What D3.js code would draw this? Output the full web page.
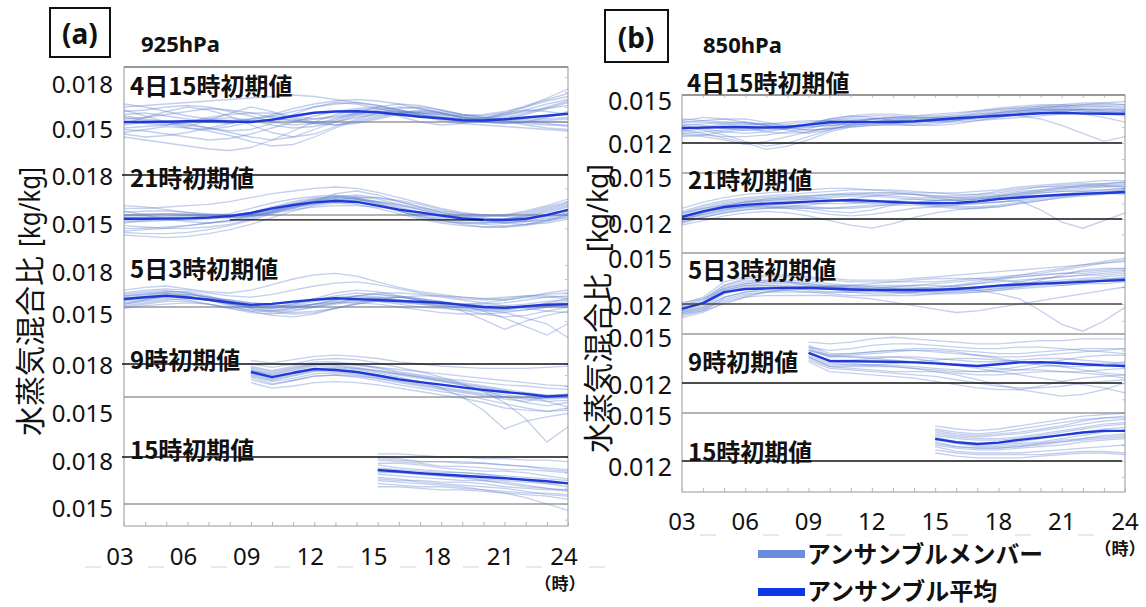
<!DOCTYPE html>
<html>
<head>
<meta charset="utf-8">
<script src="https://cdn.jsdelivr.net/npm/d3@7"></script>
<style>
  body { margin: 0; background: #fff; }
  svg { display: block; }
  text { font-family: "Noto Sans", "Noto Sans CJK JP", sans-serif; }
  .cjk { font-family: "Noto Sans CJK JP", "Noto Sans", sans-serif; }
</style>
</head>
<body>
<svg id="chart" width="1146" height="607"></svg>
<script>
// Water vapour mixing ratio ensemble forecasts, values in 10^-4 kg/kg.
const UNIT = 1e-4;

const hourTicks = [3, 6, 9, 12, 15, 18, 21, 24];
const hourTickLabels = ["03", "06", "09", "12", "15", "18", "21", "24"];
const allHours = [3,4,5,6,7,8,9,10,11,12,13,14,15,16,17,18,19,20,21,22,23,24];
const initLabels = ["4日15時初期値", "21時初期値", "5日3時初期値", "9時初期値", "15時初期値"];
const firstHours = [3, 3, 3, 9, 15];
const refValuesA = [0.018, 0.015];
const refValuesB = [0.015, 0.012];
const tickTextA = ["0.018", "0.015"];
const tickTextB = ["0.015", "0.012"];

// ---------- 925hPa ----------
const a1Mean = [150.0,150.0,150.2,150.5,150.7,150.3,150.0,151.5,154.0,156.2,157.0,157.2,156.5,155.0,153.5,152.5,151.2,151.0,151.8,153.0,154.2,155.5];
const a1Members = [
  [160,161,162,163,164,165,166,167,168,167,165,163,161,158,156,155,154,155,157,160,164,167],
  [155,156,154,152,150,149,151,154,157,160,162,163,161,158,155,153,152,153,155,157,159,161],
  [145,144,142,140,138,139,142,146,150,154,157,159,160,158,155,152,150,150,151,152,152,153],
  [140,138,136,134,132,131,133,138,144,150,155,158,159,157,154,151,149,148,147,146,145,144],
  [152,153,155,157,159,158,156,153,151,152,154,156,157,157,156,155,153,152,154,158,162,165],
  [148,150,151,149,146,143,140,138,140,145,150,154,156,157,156,154,152,151,150,149,148,148],
  [157,158,160,161,160,157,154,150,148,149,152,156,160,162,161,158,155,153,152,151,150,150],
  [150,149,148,150,153,155,156,156,154,152,153,155,158,160,159,156,153,151,152,155,159,163],
  [143,145,147,146,144,141,137,134,135,140,146,151,154,156,157,156,154,152,151,150,149,147],
  [162,160,157,154,152,151,152,155,159,162,164,165,164,162,159,156,153,152,155,160,166,172],
  [153,151,149,146,145,147,150,152,151,149,148,150,153,156,158,157,155,154,156,158,157,155],
  [146,147,148,150,152,153,151,148,146,147,150,153,155,156,155,153,151,150,149,150,153,157],
  [158,154,150,147,151,156,160,157,152,149,151,155,157,154,150,148,149,152,156,161,165,169],
  [149,153,157,160,158,154,148,143,140,142,147,152,156,159,160,158,155,153,151,148,146,145],
  [154,152,150,148,146,144,145,149,155,160,163,162,159,156,154,152,151,151,153,156,160,164],
  [142,140,141,143,146,149,152,154,153,150,148,149,152,155,157,156,153,150,149,150,151,152]
];

const a2Mean = [147.2,147.2,147.3,147.5,148.0,149.2,151.5,155.0,157.5,159.5,160.5,159.8,157.0,154.0,152.0,149.5,147.5,146.5,146.2,147.0,150.0,153.8];
const a2Members = [
  [155,155,156,157,158,160,163,166,168,170,171,170,167,163,159,155,152,150,150,152,156,160],
  [150,149,148,148,149,151,155,159,162,164,165,163,160,156,152,149,147,146,147,149,152,156],
  [142,141,140,140,141,143,147,152,157,160,161,160,157,153,149,146,144,143,142,143,146,150],
  [135,134,133,134,136,139,143,148,153,157,159,158,155,151,147,144,142,141,141,142,145,149],
  [148,148,149,150,150,149,150,153,157,161,164,165,163,160,156,152,149,147,147,148,150,153],
  [152,153,153,152,151,150,151,154,158,161,162,160,157,154,151,150,149,149,150,153,157,162],
  [145,145,146,147,148,149,151,154,156,158,160,161,160,158,155,152,150,148,146,145,146,148],
  [140,140,141,142,144,146,150,155,159,162,163,162,159,155,151,148,146,146,147,150,154,158],
  [157,156,154,152,150,149,150,152,155,158,161,163,163,161,158,154,151,149,149,151,155,159],
  [146,146,146,146,147,148,150,153,157,160,162,162,160,157,154,151,148,146,145,145,147,151],
  [150,151,151,150,149,148,149,152,156,160,163,164,162,158,154,150,147,145,144,145,148,152],
  [138,139,140,142,144,146,149,152,156,159,161,160,157,154,150,147,145,144,144,146,150,154],
  [144,146,148,149,149,148,149,151,155,160,166,168,165,160,156,153,151,150,149,148,149,151],
  [153,150,147,145,144,145,148,153,158,162,164,163,159,153,148,145,144,144,146,149,153,157],
  [137,136,136,137,139,142,146,151,154,156,157,157,156,154,152,150,148,146,144,143,144,147],
  [149,150,151,151,150,150,152,156,160,163,164,162,158,153,149,146,143,141,141,143,146,150]
];
// short dark reference segment drawn across the 21時 strip
const a2RefSegment = [[8, 146.3], [20, 146.3]];

const a3Mean = [155.7,157.0,158.0,156.8,155.2,153.2,151.5,152.2,153.8,155.2,156.2,155.6,155.0,154.3,153.7,153.0,151.5,150.0,149.4,150.5,151.6,152.0];
const a3Members = [
  [160,162,163,162,160,158,157,159,162,165,167,168,166,163,160,158,156,155,156,158,159,160],
  [156,158,160,159,157,155,153,152,153,155,158,160,159,157,155,153,151,149,148,150,152,154],
  [152,154,156,155,152,149,146,145,147,150,153,156,157,157,156,154,151,147,142,136,130,138],
  [158,160,161,160,157,153,150,148,149,152,155,158,160,160,159,157,155,153,151,149,147,146],
  [154,156,158,157,155,152,149,147,148,150,152,154,154,153,152,151,150,148,146,142,138,128],
  [162,164,165,163,161,160,162,166,170,173,174,172,168,164,161,159,157,156,157,158,158,157],
  [150,152,154,154,152,149,147,147,149,152,154,155,154,152,150,149,148,147,147,148,150,151],
  [157,159,160,158,155,152,150,150,152,155,157,158,157,155,153,152,152,153,155,157,157,156],
  [153,155,157,157,156,154,152,151,151,152,153,153,152,150,148,146,145,145,146,148,150,152],
  [159,161,162,160,156,152,149,147,146,147,149,152,155,157,158,158,157,156,155,157,160,162],
  [155,157,159,158,155,151,147,144,143,145,149,153,156,157,155,152,148,145,143,144,147,150],
  [151,153,155,156,156,155,153,151,150,151,153,155,156,155,153,151,149,148,148,150,153,156],
  [155,157,158,157,155,153,150,149,150,152,155,158,159,158,156,154,152,151,151,152,154,155],
  [158,159,161,161,158,154,150,149,151,154,156,157,156,154,152,150,147,141,134,140,144,147],
  [152,155,158,159,157,154,151,150,152,156,160,162,161,158,155,153,152,152,153,155,157,158],
  [149,151,152,153,152,150,148,146,145,146,149,152,154,154,153,152,150,149,149,150,151,152]
];

const a4Mean = [172.7,168.0,172.0,175.5,174.5,172.7,169.5,166.0,163.5,161.2,158.8,156.5,154.5,152.8,150.5,151.5];
const a4Members = [
  [183,181,184,187,188,187,185,182,180,178,177,176,176,176,177,178],
  [178,174,178,182,182,180,177,173,170,167,165,163,161,160,158,157],
  [175,170,174,178,178,176,173,170,167,164,161,158,155,152,150,151],
  [170,165,169,173,173,171,168,165,162,159,156,153,150,148,146,147],
  [166,161,165,169,170,168,165,161,158,155,152,148,144,140,137,140],
  [180,177,180,184,185,184,181,177,173,168,162,155,145,130,109,123],
  [172,167,171,175,176,175,172,168,164,158,150,138,121,128,132,135],
  [168,162,165,169,170,169,167,164,161,158,155,152,150,149,149,150],
  [176,172,176,180,181,179,176,172,169,166,163,160,157,154,152,152],
  [163,158,160,163,164,163,161,158,155,152,149,145,140,138,137,138],
  [174,169,172,176,177,176,174,171,168,165,161,156,150,145,142,145],
  [171,166,170,174,175,173,170,167,164,161,158,155,152,150,148,149],
  [174,171,175,179,180,179,177,175,173,171,169,167,165,163,161,160],
  [169,164,167,171,172,170,167,163,160,157,154,151,148,146,150,153],
  [177,173,177,180,179,177,174,171,168,165,162,159,156,152,146,141]
];

const a5Mean = [171.7,170.7,169.7,168.8,168.0,167.2,166.4,165.5,164.5,163.2];
const a5Members = [
  [182,182,181,180,180,179,179,178,178,177],
  [180,179,177,177,176,176,175,174,173,172],
  [178,177,176,174,174,173,172,172,171,170],
  [176,176,175,173,172,171,171,170,168,166],
  [175,173,172,171,170,169,168,167,166,165],
  [173,172,171,170,170,169,167,165,163,161],
  [170,170,169,168,167,166,165,164,163,163],
  [169,168,167,166,165,165,164,162,160,158],
  [167,166,164,163,162,161,160,158,156,155],
  [165,164,163,162,161,159,157,154,150,146],
  [163,162,161,161,160,159,158,157,157,156],
  [161,161,160,159,159,158,157,156,155,153],
  [179,178,177,177,177,176,175,174,172,171],
  [166,165,165,164,164,163,161,160,159,159],
  [171,170,169,168,167,165,163,161,160,159]
];

// ---------- 850hPa ----------
const b1Mean = [129.4,129.6,129.8,129.8,129.7,130.0,131.5,133.0,133.2,133.2,133.1,133.5,134.5,135.5,136.2,137.0,137.8,138.6,138.8,138.5,138.3,138.2];
const b1Members = [
  [134,136,135,133,131,130,132,135,137,138,138,137,137,138,140,142,143,144,144,143,143,142],
  [130,128,125,121,118,120,124,128,131,132,133,134,135,136,137,138,139,140,141,141,141,140],
  [126,127,128,129,130,131,131,132,133,133,134,134,134,135,136,137,138,139,139,138,138,137],
  [132,131,129,128,128,129,131,134,136,137,137,136,136,137,139,141,142,143,143,142,142,141],
  [128,126,123,120,116,118,122,127,130,131,131,131,132,134,136,137,137,135,131,126,121,124],
  [135,134,133,132,132,132,133,134,135,135,136,137,138,139,140,141,142,143,144,145,145,144],
  [124,125,127,128,129,129,130,131,132,132,132,132,133,134,135,136,138,139,140,140,139,138],
  [131,132,133,133,132,131,130,131,132,133,134,135,136,137,138,139,140,141,141,140,139,138],
  [127,129,131,132,131,129,128,129,131,132,133,133,134,135,137,139,140,141,140,138,136,133],
  [133,133,132,130,127,126,127,130,133,135,136,136,135,135,136,137,139,141,142,143,143,143],
  [129,130,130,131,132,133,134,134,134,133,132,131,131,132,134,136,138,140,141,141,140,140],
  [126,125,124,124,125,127,129,132,134,135,135,134,133,133,134,135,136,137,138,138,139,139],
  [128,130,132,133,131,128,126,128,132,135,136,135,134,134,136,139,141,142,142,141,141,141],
  [131,129,127,126,127,129,132,135,137,136,134,133,134,136,138,140,141,142,143,144,144,144],
  [125,124,122,119,121,124,127,129,130,131,132,133,134,135,136,137,138,139,140,141,140,139],
  [133,134,135,135,133,130,128,129,131,133,135,136,136,136,137,138,140,142,143,144,145,146]
];

const b2Mean = [121.3,125.0,127.8,129.2,130.0,130.6,131.3,132.0,132.4,131.8,131.1,130.5,130.3,130.4,131.5,133.0,134.0,135.0,135.8,136.4,137.0,137.6];
const b2Members = [
  [127,131,134,136,137,138,139,140,140,139,138,137,137,137,138,139,141,142,143,144,145,145],
  [124,128,131,133,134,135,135,136,136,136,135,134,134,134,135,136,138,139,140,141,142,143],
  [121,125,128,130,131,132,133,134,135,135,134,133,132,132,133,135,137,138,139,140,141,142],
  [118,122,125,127,128,128,127,125,124,126,129,131,132,132,133,134,136,137,138,139,139,140],
  [116,119,122,124,125,124,122,119,116,114,117,121,124,126,127,128,130,132,134,136,137,138],
  [122,126,129,131,132,133,134,135,136,137,137,136,134,132,131,131,132,134,136,138,139,140],
  [119,123,126,128,129,130,131,132,132,132,131,130,129,129,130,131,132,126,118,114,119,124],
  [120,124,127,129,130,130,130,130,130,131,131,130,129,128,128,129,131,133,135,137,138,139],
  [123,127,130,132,133,134,135,136,137,137,137,136,135,135,136,138,140,141,141,141,141,141],
  [117,121,124,126,127,127,127,127,128,129,129,129,128,127,127,128,130,132,134,135,136,137],
  [125,129,132,134,135,136,137,138,139,139,139,138,137,136,136,137,139,141,142,143,143,144],
  [120,123,126,128,129,129,128,127,127,128,130,131,131,130,130,131,133,135,136,137,137,137],
  [119,124,128,131,133,134,134,133,131,130,130,131,132,133,134,135,136,138,140,142,143,144],
  [122,125,127,128,128,127,125,123,122,123,125,127,128,129,131,133,135,137,138,138,137,136],
  [118,121,124,126,127,128,129,131,133,135,136,136,135,134,134,135,137,139,141,142,142,141],
  [124,127,129,131,132,133,133,132,131,131,132,133,133,133,133,134,135,135,135,136,137,139]
];

const b3Mean = [117.1,120.5,127.0,128.8,129.2,129.5,129.4,129.0,128.5,128.2,128.2,128.2,128.2,128.8,129.8,130.8,131.5,132.0,132.4,133.0,133.6,134.1];
const b3Members = [
  [120,124,133,136,137,137,136,135,134,134,134,135,136,137,138,139,140,141,142,143,144,145],
  [118,121,130,133,134,134,133,132,131,131,131,131,132,133,134,135,136,137,138,139,140,141],
  [116,119,127,130,131,131,130,129,128,128,128,129,130,131,132,133,134,135,136,137,138,139],
  [114,117,124,127,128,128,127,126,125,125,125,125,126,127,128,129,130,131,132,133,134,135],
  [112,115,121,124,125,125,125,125,124,123,121,119,117,115,116,118,120,122,124,126,128,130],
  [119,122,131,135,136,136,135,134,133,133,133,133,133,134,135,136,137,138,140,142,144,146],
  [117,120,128,131,132,132,131,130,129,129,130,131,131,130,128,126,123,116,108,104,110,118],
  [115,118,126,129,130,130,130,130,130,130,130,130,129,129,129,130,131,133,134,135,136,137],
  [121,123,129,132,133,133,132,131,130,129,128,127,127,128,129,131,133,135,136,137,137,138],
  [113,116,123,126,127,127,127,127,127,127,127,127,128,129,130,131,132,133,133,134,135,135],
  [118,121,129,132,133,133,132,130,129,128,127,127,128,130,132,134,136,137,138,138,139,140],
  [116,118,124,127,129,130,130,130,129,128,127,126,126,126,127,128,130,132,133,134,134,135],
  [119,123,131,134,134,133,131,129,127,126,126,127,129,131,133,135,137,139,141,143,145,147],
  [115,117,122,125,127,128,129,130,131,132,133,134,135,135,135,134,133,132,131,132,134,136],
  [117,121,128,131,131,130,128,127,127,128,129,129,129,128,128,129,131,134,137,140,141,141],
  [114,116,120,124,127,129,130,131,131,130,129,128,127,127,127,128,129,130,131,132,132,133]
];

const b4Mean = [138.4,133.5,133.3,133.2,133.0,132.6,132.0,131.2,130.4,131.5,132.6,132.8,132.2,131.5,130.8,130.4];
const b4Members = [
  [145,144,145,147,148,147,146,145,144,144,145,146,146,147,147,147],
  [142,140,141,143,144,144,143,142,141,141,142,142,141,140,139,138],
  [140,137,138,139,140,140,139,138,137,136,136,137,138,139,140,141],
  [138,134,134,135,136,136,135,134,133,133,134,135,135,134,133,132],
  [136,131,131,131,131,130,129,128,127,127,128,130,131,132,132,131],
  [134,129,128,127,126,125,124,122,120,118,117,117,118,120,121,122],
  [139,133,132,131,130,129,127,125,122,119,116,114,112,113,116,120],
  [141,136,136,136,136,135,133,131,129,127,125,123,121,119,117,114],
  [137,132,131,131,132,133,134,135,135,134,133,132,130,128,126,125],
  [143,138,138,139,140,141,141,140,139,138,138,139,140,141,141,141],
  [135,130,129,128,127,127,127,126,125,125,126,127,127,126,125,123],
  [133,127,126,125,124,123,121,119,117,116,116,118,121,123,124,125],
  [140,136,137,138,139,140,140,139,137,135,133,131,130,130,131,133],
  [136,130,130,130,130,129,128,127,127,128,130,132,134,136,137,137],
  [142,137,136,135,134,133,132,131,130,129,128,128,127,127,128,129]
];

const b5Mean = [133.8,131.8,130.6,131.5,133.2,134.6,136.2,137.8,138.8,138.8];
const b5Members = [
  [142,140,139,140,142,144,146,148,149,150],
  [140,138,137,138,140,142,144,146,147,147],
  [138,136,135,136,137,139,141,143,145,146],
  [136,134,133,133,134,136,138,140,142,143],
  [135,132,131,131,132,134,136,138,140,141],
  [133,131,130,130,131,132,134,136,138,139],
  [132,129,128,128,129,130,132,134,136,137],
  [130,128,127,127,128,129,130,132,133,134],
  [129,126,125,125,125,126,127,128,129,130],
  [127,125,124,124,124,124,125,126,126,125],
  [125,123,122,122,122,123,124,125,125,124],
  [137,135,134,134,135,137,139,141,143,144],
  [139,137,136,137,138,140,142,145,147,148],
  [131,129,128,128,129,131,133,134,135,136],
  [134,131,129,129,130,131,132,133,134,135]
];

const legendLabels = ["アンサンブルメンバー", "アンサンブル平均"];

// ---------- layout ----------
const COL_MEMBER = "rgb(96,128,205)";
const COL_MEAN = "#1f3ad6";
const GRID = "#9a9a9a";

const panels = [
  {
    tag: "(a)", level: "925hPa",
    box: [50, 8, 60, 49], tagXY: [80, 33], levelXY: [141, 52],
    x0: 124, x1: 568, top: 67, bottom: 526,
    refValues: refValuesA, tickText: tickTextA,
    refRows: [[77, 122], [175, 215], [265, 307], [364, 397], [457, 504]],
    refColors: [[null, GRID], ["#111", GRID], [null, GRID], ["#111", GRID], ["#111", GRID]],
    tickRows: [[83, 128], [175, 223], [271, 313], [364, 412], [460, 507]],
    tickRight: 113, tickSize: 24,
    initXY: [[130, 84], [130, 176], [130, 267], [130, 358], [130, 448]],
    means: [a1Mean, a2Mean, a3Mean, a4Mean, a5Mean],
    members: [a1Members, a2Members, a3Members, a4Members, a5Members],
    xLabelY: 555, xLabelDx: -4,
    unitXY: [560, 582],
    // axis title: x centre, bottom of the kanji run, bottom and length of the unit
    title: { x: 28, kanjiBottom: 436, unitBottom: 247, unitLen: 80 },
    dashY: 567, dashFrom: 85, dashTo: 640
  },
  {
    tag: "(b)", level: "850hPa",
    box: [605, 10, 63, 52], tagXY: [636, 37], levelXY: [703, 53],
    x0: 682, x1: 1125, top: 95, bottom: 492,
    refValues: refValuesB, tickText: tickTextB,
    refRows: [[95, 143], [173, 219], [253, 304], [334, 383], [413, 461]],
    refColors: [[GRID, "#111"], [GRID, "#111"], [GRID, "#444"], [GRID, "#111"], [GRID, "#111"]],
    tickRows: [[100, 143], [177, 223], [258, 305], [337, 384], [415, 466]],
    tickRight: 672, tickSize: 25,
    initXY: [[687, 81], [688, 178], [688, 268], [688, 360], [688, 450]],
    means: [b1Mean, b2Mean, b3Mean, b4Mean, b5Mean],
    members: [b1Members, b2Members, b3Members, b4Members, b5Members],
    xLabelY: 520, xLabelDx: 0,
    unitXY: [1120, 547],
    title: { x: 596, kanjiBottom: 453, unitBottom: 252, unitLen: 88 },
    dashY: 535, dashFrom: 700, dashTo: 1115
  }
];

const svg = d3.select("#chart");

panels.forEach((p, pi) => {
  const g = svg.append("g");
  const x = d3.scaleLinear().domain([3, 24]).range([p.x0, p.x1]);

  // faint dashes under the hour labels
  g.append("line")
    .attr("x1", p.dashFrom).attr("x2", p.dashTo)
    .attr("y1", p.dashY).attr("y2", p.dashY)
    .attr("stroke", "#d4d4d4").attr("stroke-width", 1.2)
    .attr("stroke-dasharray", "16,47");

  // plot frame
  g.append("rect")
    .attr("x", p.x0).attr("y", p.top)
    .attr("width", p.x1 - p.x0).attr("height", p.bottom - p.top)
    .attr("fill", "none").attr("stroke", "#a8a8a8").attr("stroke-width", 1.2);
  g.append("line")
    .attr("x1", p.x0).attr("x2", p.x1).attr("y1", p.top).attr("y2", p.top)
    .attr("stroke", "#888").attr("stroke-width", 1.4);

  // hour ticks along the bottom and top frame (inward)
  g.append("g")
    .attr("transform", `translate(0,${p.bottom})`)
    .call(d3.axisBottom(x).tickValues(allHours).tickSizeInner(-4).tickSizeOuter(0).tickFormat(""))
    .call(s => s.select(".domain").remove())
    .call(s => s.selectAll("line").attr("stroke", "#b5b5b5"));
  if (pi === 1) {
    g.append("g")
      .attr("transform", `translate(0,${p.top})`)
      .call(d3.axisTop(x).tickValues(allHours).tickSizeInner(-3).tickSizeOuter(0).tickFormat(""))
      .call(s => s.select(".domain").remove())
      .call(s => s.selectAll("line").attr("stroke", "#c0c0c0"));
  }

  // hour labels
  g.selectAll("text.hr").data(hourTicks).join("text")
    .attr("class", "hr")
    .attr("x", d => x(d) + p.xLabelDx).attr("y", p.xLabelY)
    .attr("text-anchor", "middle").attr("dominant-baseline", "central")
    .attr("font-size", 24).attr("fill", "#111")
    .text((d, i) => hourTickLabels[i]);

  // one strip per initial time
  p.means.forEach((mean, si) => {
    const rows = p.refRows[si];
    const y = d3.scaleLinear().domain(p.refValues).range(rows);
    const start = firstHours[si];
    const line = d3.line()
      .x((v, i) => x(start + i))
      .y(v => y(v * UNIT));

    // minor ticks along the right frame
    g.append("g")
      .attr("transform", `translate(${p.x1},0)`)
      .call(d3.axisRight(y).tickValues(d3.range(p.refValues[1] - 0.001, p.refValues[0] + 0.0005, 0.001)
        .filter(v => y(v) > p.top + 2 && y(v) < p.bottom - 2))
        .tickSizeInner(-3).tickSizeOuter(0).tickFormat(""))
      .call(s => s.select(".domain").remove())
      .call(s => s.selectAll("line").attr("stroke", "#c4c4c4"));

    const upColor = p.refColors[si][0];
    const lowColor = p.refColors[si][1];
    // light reference lines beneath the ensemble
    [[upColor, p.refValues[0]], [lowColor, p.refValues[1]]].forEach(([c, v]) => {
      if (c === GRID) {
        g.append("line").attr("x1", p.x0).attr("x2", p.x1)
          .attr("y1", y(v)).attr("y2", y(v))
          .attr("stroke", c).attr("stroke-width", 1.4);
      }
    });

    // ensemble members
    g.append("g").selectAll("path").data(p.members[si]).join("path")
      .attr("d", line)
      .attr("fill", "none")
      .attr("stroke", COL_MEMBER)
      .attr("stroke-opacity", 0.38)
      .attr("stroke-width", 1.3);

    // ensemble mean
    g.append("path").attr("d", line(mean))
      .attr("fill", "none").attr("stroke", COL_MEAN)
      .attr("stroke-width", 2.4).attr("stroke-linejoin", "round");

    // dark reference lines on top
    if (upColor && upColor !== GRID) {
      g.append("line").attr("x1", p.x0 - 2).attr("x2", p.x1)
        .attr("y1", y(p.refValues[0])).attr("y2", y(p.refValues[0]))
        .attr("stroke", upColor).attr("stroke-width", 1.3);
    }
    if (lowColor && lowColor !== GRID) {
      g.append("line").attr("x1", p.x0).attr("x2", p.x1 - 3)
        .attr("y1", y(p.refValues[1])).attr("y2", y(p.refValues[1]))
        .attr("stroke", lowColor).attr("stroke-width", 1.3);
    }
    if (pi === 0 && si === 1) {
      g.append("path")
        .attr("d", d3.line().x(d => x(d[0])).y(d => y(d[1] * UNIT))(a2RefSegment))
        .attr("stroke", "#111").attr("stroke-width", 1.3);
    }

    // tick labels of the strip
    p.tickText.forEach((t, k) => {
      g.append("text")
        .attr("x", p.tickRight).attr("y", p.tickRows[si][k])
        .attr("text-anchor", "end").attr("dominant-baseline", "central")
        .attr("font-size", p.tickSize).attr("fill", "#111")
        .text(t);
    });

    // initial-time label
    g.append("text").attr("class", "cjk")
      .attr("x", p.initXY[si][0]).attr("y", p.initXY[si][1])
      .attr("dominant-baseline", "central")
      .attr("font-size", 24).attr("font-weight", 700).attr("fill", "#111")
      .text(initLabels[si]);
  });

  // panel tag and level
  g.append("rect")
    .attr("x", p.box[0]).attr("y", p.box[1]).attr("width", p.box[2]).attr("height", p.box[3])
    .attr("fill", "none").attr("stroke", "#111").attr("stroke-width", 2);
  g.append("text")
    .attr("x", p.tagXY[0]).attr("y", p.tagXY[1])
    .attr("text-anchor", "middle").attr("dominant-baseline", "central")
    .attr("font-size", 28).attr("font-weight", 700).attr("fill", "#111")
    .text(p.tag);
  g.append("text")
    .attr("x", p.levelXY[0]).attr("y", p.levelXY[1])
    .attr("font-size", 22).attr("font-weight", 700).attr("fill", "#111")
    .text(p.level);

  // vertical axis title, read bottom to top
  g.append("text").attr("class", "cjk")
    .attr("transform", `translate(${p.title.x},${p.title.kanjiBottom}) rotate(-90)`)
    .attr("text-anchor", "start").attr("dominant-baseline", "central")
    .attr("font-size", 30).attr("fill", "#111")
    .text("水蒸気混合比");
  g.append("text")
    .attr("transform", `translate(${p.title.x},${p.title.unitBottom}) rotate(-90)`)
    .attr("text-anchor", "start").attr("dominant-baseline", "central")
    .attr("font-size", 29).attr("fill", "#111")
    .attr("textLength", p.title.unitLen).attr("lengthAdjust", "spacingAndGlyphs")
    .text("[kg/kg]");

  // hour unit
  g.append("text").attr("class", "cjk")
    .attr("x", p.unitXY[0]).attr("y", p.unitXY[1])
    .attr("text-anchor", "middle").attr("dominant-baseline", "central")
    .attr("font-size", 17).attr("font-weight", 700).attr("fill", "#111")
    .text("（時）");
});

// legend
const legend = svg.append("g");
const legendRows = [
  { y: 554, ty: 552, color: "#6c8ddc", len: 236 },
  { y: 592, ty: 589, color: "#0a3ae6", len: null }
];
legendRows.forEach((r, i) => {
  legend.append("line")
    .attr("x1", 758).attr("x2", 805).attr("y1", r.y).attr("y2", r.y)
    .attr("stroke", r.color).attr("stroke-width", 8);
  const t = legend.append("text").attr("class", "cjk")
    .attr("x", 807).attr("y", r.ty)
    .attr("dominant-baseline", "central")
    .attr("font-size", 24).attr("font-weight", 700).attr("fill", "#111")
    .text(legendLabels[i]);
  if (r.len) t.attr("textLength", r.len).attr("lengthAdjust", "spacingAndGlyphs");
});
</script>
</body>
</html>
